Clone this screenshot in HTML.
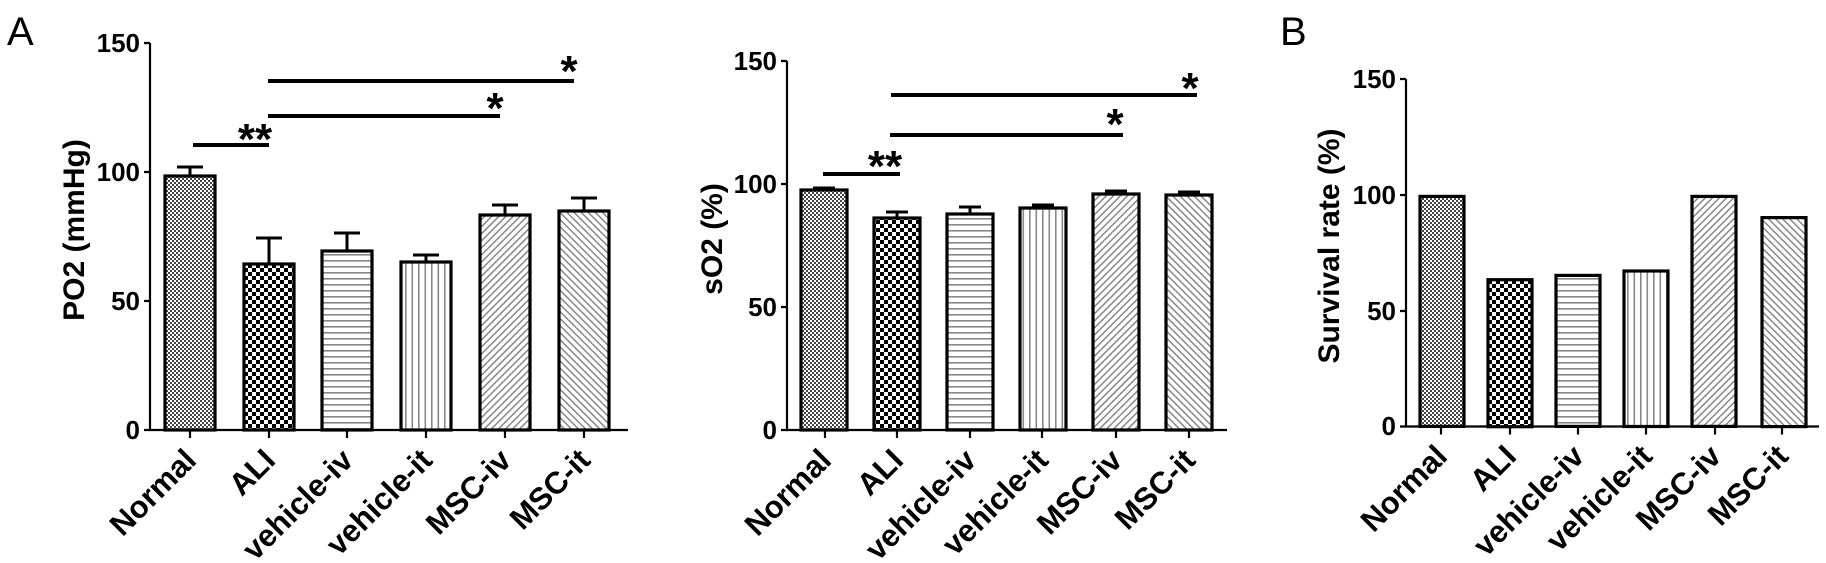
<!DOCTYPE html>
<html><head><meta charset="utf-8"><style>
html,body{margin:0;padding:0;background:#fff;}
svg{display:block;}
text{font-family:"Liberation Sans",Arial,sans-serif;fill:#000;}
.t{font-size:26px;font-weight:bold;text-anchor:end;}
.x{font-size:31px;font-weight:bold;text-anchor:end;}
.y{font-size:30px;font-weight:bold;text-anchor:middle;}
.s{font-size:44px;font-weight:bold;text-anchor:middle;}
.bar{stroke:#000;stroke-width:3.2;}
.ax{stroke:#000;stroke-width:2.2;fill:none;}
.eb{stroke:#000;stroke-width:3;fill:none;}
.sig{stroke:#000;stroke-width:4;}
</style></head><body>
<svg width="1826" height="563" viewBox="0 0 1826 563" xmlns="http://www.w3.org/2000/svg">
<defs>
<pattern id="pN" width="4" height="4" patternUnits="userSpaceOnUse"><rect width="4" height="4" fill="#fff"/><rect width="2" height="2" fill="#444"/><rect x="2" y="2" width="2" height="2" fill="#444"/></pattern>
<pattern id="pA" width="8" height="8" patternUnits="userSpaceOnUse"><rect width="8" height="8" fill="#fff"/><rect width="4" height="4" fill="#000"/><rect x="4" y="4" width="4" height="4" fill="#000"/></pattern>
<pattern id="pH" width="6" height="6" patternUnits="userSpaceOnUse"><rect width="6" height="6" fill="#fff"/><rect y="2" width="6" height="1.6" fill="#888"/></pattern>
<pattern id="pV" width="6.5" height="6" patternUnits="userSpaceOnUse"><rect width="6.5" height="6" fill="#fff"/><rect x="2" width="1.6" height="6" fill="#888"/></pattern>
<pattern id="pD1" width="5" height="5" patternUnits="userSpaceOnUse" patternTransform="rotate(45)"><rect width="5" height="5" fill="#fff"/><rect x="0" width="1.5" height="5" fill="#888"/></pattern>
<pattern id="pD2" width="5" height="5" patternUnits="userSpaceOnUse" patternTransform="rotate(-45)"><rect width="5" height="5" fill="#fff"/><rect x="0" width="1.5" height="5" fill="#888"/></pattern>
</defs>

<!-- Panel A1 -->
<text x="7" y="45" style="font-size:40px">A</text>
<path class="ax" d="M150 43 V430 H628"/>
<path class="ax" d="M144 43H150M144 172H150M144 301H150M144 430H150"/>
<text class="t" x="140" y="52">150</text>
<text class="t" x="140" y="181">100</text>
<text class="t" x="140" y="310">50</text>
<text class="t" x="140" y="439">0</text>
<path class="ax" d="M190 430v8M269 430v8M347 430v8M426 430v8M505 430v8M584 430v8"/>
<path class="eb" d="M190 176V167M177 167H203M269 264V238M256 238H282M347 251V233M334 233H360M426 262V255M413 255H439M505 215V205M492 205H518M584 211V198M571 198H597"/>
<rect class="bar" x="165" y="176" width="50" height="254" fill="url(#pN)"/>
<rect class="bar" x="244" y="264" width="50" height="166" fill="url(#pA)"/>
<rect class="bar" x="322" y="251" width="50" height="179" fill="url(#pH)"/>
<rect class="bar" x="401" y="262" width="50" height="168" fill="url(#pV)"/>
<rect class="bar" x="480" y="215" width="50" height="215" fill="url(#pD1)"/>
<rect class="bar" x="559" y="211" width="50" height="219" fill="url(#pD2)"/>
<path class="sig" d="M193 145H269M268 116H500M268 81H574"/>
<text class="s" x="255" y="154">**</text>
<text class="s" x="495" y="123">*</text>
<text class="s" x="569" y="86">*</text>
<text class="y" transform="translate(84,230) rotate(-90)">PO2 (mmHg)</text>
<text class="x" transform="translate(198,462) rotate(-45)">Normal</text>
<text class="x" transform="translate(277,462) rotate(-45)">ALI</text>
<text class="x" transform="translate(355,462) rotate(-45)">vehicle-iv</text>
<text class="x" transform="translate(434,462) rotate(-45)">vehicle-it</text>
<text class="x" transform="translate(513,462) rotate(-45)">MSC-iv</text>
<text class="x" transform="translate(592,462) rotate(-45)">MSC-it</text>

<!-- Panel A2 -->
<path class="ax" d="M787 61 V430 H1227"/>
<path class="ax" d="M781 61H787M781 184H787M781 307H787M781 430H787"/>
<text class="t" x="777" y="70">150</text>
<text class="t" x="777" y="193">100</text>
<text class="t" x="777" y="316">50</text>
<text class="t" x="777" y="439">0</text>
<path class="ax" d="M825 430v8M897 430v8M970 430v8M1042 430v8M1116 430v8M1189 430v8"/>
<path class="eb" d="M824 190V188M813 188H835M897 218V212M886 212H908M970 214V207M959 207H981M1043 208V205M1032 205H1054M1116 194V191M1105 191H1127M1189 195V192M1178 192H1200"/>
<rect class="bar" x="801" y="190" width="46" height="240" fill="url(#pN)"/>
<rect class="bar" x="874" y="218" width="46" height="212" fill="url(#pA)"/>
<rect class="bar" x="947" y="214" width="46" height="216" fill="url(#pH)"/>
<rect class="bar" x="1020" y="208" width="46" height="222" fill="url(#pV)"/>
<rect class="bar" x="1093" y="194" width="46" height="236" fill="url(#pD1)"/>
<rect class="bar" x="1166" y="195" width="46" height="235" fill="url(#pD2)"/>
<path class="sig" d="M823 174H900M890 135H1123M891 95H1197"/>
<text class="s" x="885" y="181">**</text>
<text class="s" x="1115" y="139">*</text>
<text class="s" x="1190" y="103">*</text>
<text class="y" transform="translate(722,239) rotate(-90)">sO2 (%)</text>
<text class="x" transform="translate(833,462) rotate(-45)">Normal</text>
<text class="x" transform="translate(905,462) rotate(-45)">ALI</text>
<text class="x" transform="translate(978,462) rotate(-45)">vehicle-iv</text>
<text class="x" transform="translate(1050,462) rotate(-45)">vehicle-it</text>
<text class="x" transform="translate(1124,462) rotate(-45)">MSC-iv</text>
<text class="x" transform="translate(1197,462) rotate(-45)">MSC-it</text>

<!-- Panel B -->
<text x="1280" y="45" style="font-size:40px">B</text>
<path class="ax" d="M1406 79 V426.5 H1819"/>
<path class="ax" d="M1400 79H1406M1400 195H1406M1400 311H1406M1400 426.5H1406"/>
<text class="t" x="1396" y="88">150</text>
<text class="t" x="1396" y="204">100</text>
<text class="t" x="1396" y="320">50</text>
<text class="t" x="1396" y="435">0</text>
<path class="ax" d="M1441 426.5v8M1510 426.5v8M1578 426.5v8M1646 426.5v8M1715 426.5v8M1782 426.5v8"/>
<rect class="bar" x="1420" y="196.4" width="44" height="230" fill="url(#pN)"/>
<rect class="bar" x="1488" y="279.7" width="44" height="147" fill="url(#pA)"/>
<rect class="bar" x="1556" y="275.4" width="44" height="151" fill="url(#pH)"/>
<rect class="bar" x="1624" y="271" width="44" height="155.5" fill="url(#pV)"/>
<rect class="bar" x="1692" y="196.4" width="44" height="230" fill="url(#pD1)"/>
<rect class="bar" x="1762" y="217.6" width="44" height="209" fill="url(#pD2)"/>
<text class="y" transform="translate(1339,246) rotate(-90)">Survival rate (%)</text>
<text class="x" transform="translate(1449,458) rotate(-45)">Normal</text>
<text class="x" transform="translate(1518,458) rotate(-45)">ALI</text>
<text class="x" transform="translate(1586,458) rotate(-45)">vehicle-iv</text>
<text class="x" transform="translate(1654,458) rotate(-45)">vehicle-it</text>
<text class="x" transform="translate(1723,458) rotate(-45)">MSC-iv</text>
<text class="x" transform="translate(1790,458) rotate(-45)">MSC-it</text>
</svg>
</body></html>
